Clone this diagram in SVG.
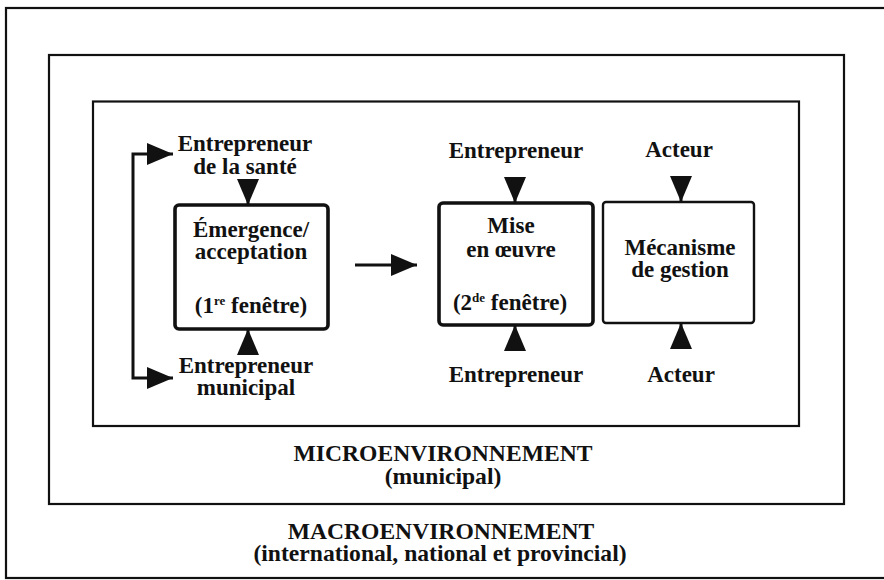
<svg xmlns="http://www.w3.org/2000/svg" width="884" height="580" viewBox="0 0 884 580">
<style>
  .frame{fill:none;stroke:#111;stroke-width:2.2}
  .box{fill:#fff;stroke:#111;stroke-width:3.6}
  .box2{fill:#fff;stroke:#111;stroke-width:2.4}
  .t{font-family:"Liberation Serif","Times New Roman",serif;font-weight:bold;font-size:23px;fill:#111;text-anchor:middle}
  .env{font-family:"Liberation Serif","Times New Roman",serif;font-weight:bold;font-size:23.6px;fill:#111;text-anchor:middle}
  .sup{font-size:13px}
  .conn{fill:none;stroke:#111;stroke-width:3}
</style>
<defs>
  <marker id="ah" markerUnits="userSpaceOnUse" markerWidth="26" markerHeight="22" refX="26" refY="11" orient="auto-start-reverse">
    <path d="M0,0 L26,11 L0,22 z" fill="#111"/>
  </marker>
</defs>
<rect width="884" height="580" fill="#fff"/>

<g id="macro">
  <rect class="frame" x="6" y="8" width="890" height="570"/>
  <text class="env" x="441" y="539">MACROENVIRONNEMENT</text>
  <text class="env" x="440" y="561">(international, national et provincial)</text>
</g>
<g id="micro">
  <rect class="frame" x="49" y="55" width="795" height="449"/>
  <text class="env" x="443" y="461">MICROENVIRONNEMENT</text>
  <text class="env" x="443" y="484">(municipal)</text>
</g>
<g id="inner">
  <rect class="frame" x="93" y="101.5" width="706" height="324.5"/>
</g>

<g id="emergence">
  <rect class="box" x="175" y="205" width="153" height="124" rx="4"/>
  <text class="t" x="251" y="237">Émergence/</text>
  <text class="t" x="251" y="259">acceptation</text>
  <text class="t" x="251" y="313">(1<tspan class="sup" dy="-8">re</tspan><tspan dy="8"> fenêtre)</tspan></text>
</g>
<g id="mise">
  <rect class="box" x="439" y="203" width="154" height="122" rx="4"/>
  <text class="t" x="511" y="233">Mise</text>
  <text class="t" x="511" y="257">en œuvre</text>
  <text class="t" x="510" y="310">(2<tspan class="sup" dy="-8">de</tspan><tspan dy="8"> fenêtre)</tspan></text>
</g>
<g id="mecanisme">
  <rect class="box2" x="603" y="202" width="151" height="121" rx="3"/>
  <text class="t" x="680" y="255">Mécanisme</text>
  <text class="t" x="680" y="277">de gestion</text>
</g>

<g id="entrepreneur-sante">
  <text class="t" x="245" y="151">Entrepreneur</text>
  <text class="t" x="245" y="174">de la santé</text>
</g>
<g id="entrepreneur-municipal">
  <text class="t" x="246" y="373">Entrepreneur</text>
  <text class="t" x="246" y="395">municipal</text>
</g>
<g id="entrepreneur-haut">
  <text class="t" x="516" y="158">Entrepreneur</text>
</g>
<g id="entrepreneur-bas">
  <text class="t" x="516" y="382">Entrepreneur</text>
</g>
<g id="acteur-haut">
  <text class="t" x="679" y="157">Acteur</text>
</g>
<g id="acteur-bas">
  <text class="t" x="681" y="382">Acteur</text>
</g>

<g id="connectors">
  <path class="conn" d="M173,154 H133 V378 H173" marker-start="url(#ah)" marker-end="url(#ah)"/>
  <path class="conn" d="M355,265 H417" marker-end="url(#ah)"/>
  <path class="conn" d="M248,179 V205" marker-end="url(#ah)"/>
  <path class="conn" d="M248,354 V329" marker-end="url(#ah)"/>
  <path class="conn" d="M515,177 V203" marker-end="url(#ah)"/>
  <path class="conn" d="M515,351 V325" marker-end="url(#ah)"/>
  <path class="conn" d="M681,176 V202" marker-end="url(#ah)"/>
  <path class="conn" d="M681,349 V323" marker-end="url(#ah)"/>
</g>
</svg>
